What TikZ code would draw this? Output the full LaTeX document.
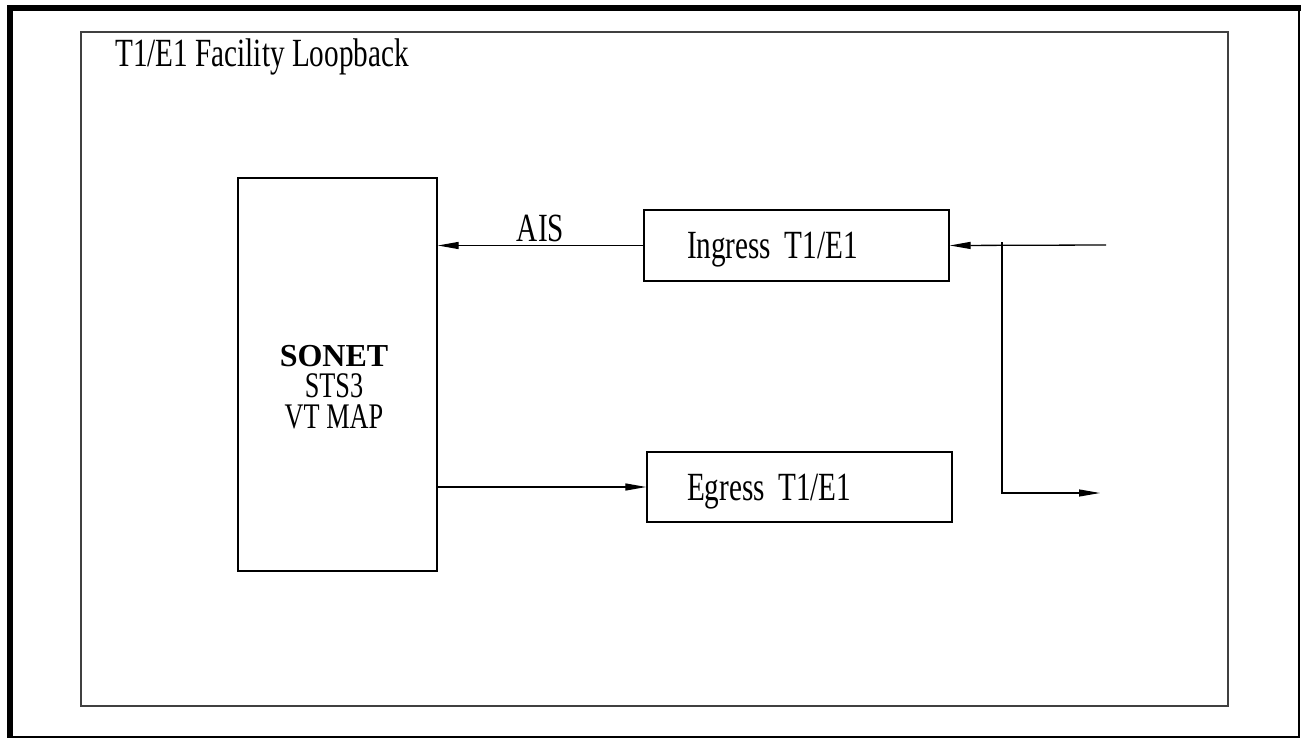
\documentclass[tikz,border=0pt]{standalone}
\usepackage{fontspec}
\setmainfont{Liberation Serif}
\newfontfamily\cad{Liberation Serif}[FakeStretch=0.73]
\usepackage{tikz}
\usetikzlibrary{arrows.meta,positioning}

\begin{document}
\begin{tikzpicture}[x=1pt,y=-1pt,
    blk/.style={draw,line width=1.4pt,inner sep=0pt},
    lbl/.style={font=\cad\fontsize{40}{31}\selectfont},
    sub/.style={font=\cad\fontsize{36}{31}\selectfont,anchor=base,inner sep=0pt},
    arr/.style={line width=1.3pt,-{Triangle[length=21pt,width=7pt]}}]
  \useasboundingbox (0,0) rectangle (1301,738);
  % sheet frame
  \draw[line width=6pt] (10,738) -- (10,8) -- (1301,8);
  \draw[line width=2pt] (10,737) -- (1299,737) -- (1299,8);
  \draw[line width=1.5pt,black!75] (81,32) rectangle (1228,706);
  \node[lbl,anchor=base west,inner sep=0pt] (title) at (115,67) {T1/E1 Facility Loopback};
  % blocks
  \node[blk,minimum width=199pt,minimum height=393pt] (sonet) at (337.5,374.5) {};
  \node[anchor=base,inner sep=0pt,font=\bfseries\fontsize{32}{32}\selectfont] (sonetname) at (334,366) {SONET};
  \node[sub] (sts) at ([yshift=-31pt]sonetname.base) {STS3};
  \node[sub] (vtmap) at ([yshift=-31pt]sts.base) {VT MAP};
  \node[blk,lbl,minimum width=305pt,minimum height=71pt,text width=219pt,
    inner xsep=43pt,align=left,text depth=0pt] (ingress) at (796.5,245.5) {Ingress T1/E1};
  \node[blk,lbl,minimum width=305pt,minimum height=70pt,text width=225pt,
    inner xsep=40pt,align=left,text depth=-3pt] (egress) at (799.5,487) {Egress T1/E1};
  % line side
  \coordinate (linein) at (1106,245);
  \coordinate (tap) at (1002,242);
  \coordinate (lineout) at (1100,493);
  % connectors
  \draw[arr] (ingress.west) -- node[lbl,above,inner sep=3pt] {AIS} (sonet.east |- ingress.west);
  \draw[arr] (sonet.east |- egress.west) -- (egress.west);
  \draw[arr] (linein) -- (ingress.east);
  \draw[arr,line width=1.1pt] (tap) |- (lineout);
\end{tikzpicture}
\end{document}
